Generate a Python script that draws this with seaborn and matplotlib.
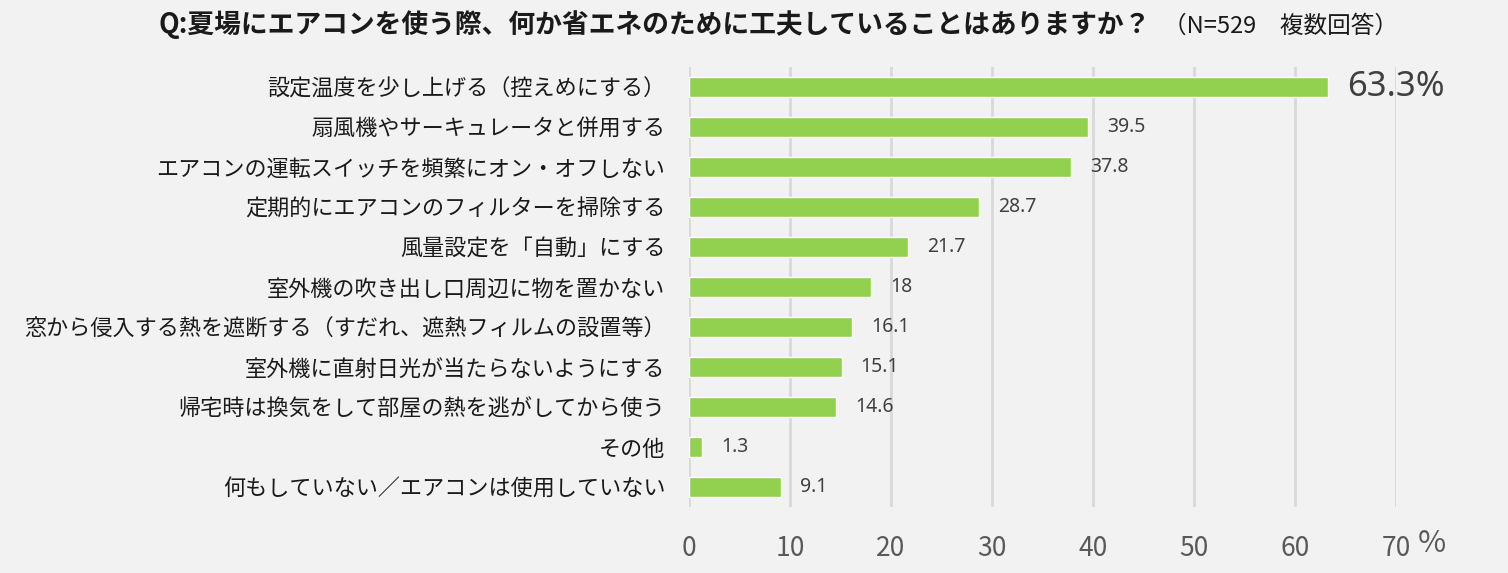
import matplotlib
matplotlib.use("Agg")
import matplotlib.pyplot as plt
import seaborn as sns
import pandas as pd

# data
categories = [
    "設定温度を少し上げる（控えめにする）",
    "扇風機やサーキュレータと併用する",
    "エアコンの運転スイッチを頻繁にオン・オフしない",
    "定期的にエアコンのフィルターを掃除する",
    "風量設定を「自動」にする",
    "室外機の吹き出し口周辺に物を置かない",
    "窓から侵入する熱を遮断する（すだれ、遮熱フィルムの設置等）",
    "室外機に直射日光が当たらないようにする",
    "帰宅時は換気をして部屋の熱を逃がしてから使う",
    "その他",
    "何もしていない／エアコンは使用していない",
]
values = [63.3, 39.5, 37.8, 28.7, 21.7, 18, 16.1, 15.1, 14.6, 1.3, 9.1]
value_labels = ["63.3", "39.5", "37.8", "28.7", "21.7", "18", "16.1", "15.1", "14.6", "1.3", "9.1"]
x_ticks = [0, 10, 20, 30, 40, 50, 60, 70]

title_main = "Q:夏場にエアコンを使う際、何か省エネのために工夫していることはありますか？"
title_note = "（N=529　複数回答）"

sns.set_style("white")
plt.rcParams["font.family"] = ["Noto Sans CJK JP", "DejaVu Sans"]

BG = "#F2F2F2"
BAR = "#92D050"

df = pd.DataFrame({"item": categories, "pct": values})

fig = plt.figure(figsize=(15.08, 5.73), dpi=100, facecolor=BG)
ax = fig.add_axes([689 / 1508, 1 - 507 / 573, 707 / 1508, 440 / 573])
ax.set_facecolor(BG)

sns.barplot(data=df, x="pct", y="item", orient="h", color=BAR, width=0.5,
            saturation=1, ax=ax, zorder=3)

ax.set_xlim(0, 70)
ax.set_ylim(10.5, -0.5)
ax.set_xticks(x_ticks)
ax.set_xticklabels([str(t) for t in x_ticks], fontsize=19, color="#595959")
ax.tick_params(axis="x", length=0, pad=20)
ax.tick_params(axis="y", length=0, pad=17, labelsize=15.9, labelcolor="#1a1a1a")
ax.set_xlabel("")
ax.set_ylabel("")
for s in ax.spines.values():
    s.set_visible(False)
ax.grid(axis="x", color="#D9D9D9", linewidth=2, zorder=0)
ax.set_axisbelow(True)

# value labels
for i, (v, lab) in enumerate(zip(values, value_labels)):
    if i == 0:
        ax.text(v + 1.9, i, lab + "%", va="center", ha="left", fontsize=25,
                color="#404040", family=["Noto Sans", "DejaVu Sans"])
    else:
        ax.text(v + 1.9, i, lab, va="center", ha="left", fontsize=14,
                color="#404040", family=["Noto Sans", "DejaVu Sans"])

# percent sign after the last tick
fig.text(1418 / 1508, 1 - 543 / 573, "%", fontsize=22, color="#595959",
         ha="left", va="center")

# title
fig.text(158 / 1508, 1 - 25 / 573, title_main, fontsize=19.3, fontweight="bold",
         color="#1a1a1a", ha="left", va="center")
fig.text(1163 / 1508, 1 - 26 / 573, title_note, fontsize=17, color="#1a1a1a",
         ha="left", va="center")

fig.savefig("out.png", dpi=100, facecolor=BG)
